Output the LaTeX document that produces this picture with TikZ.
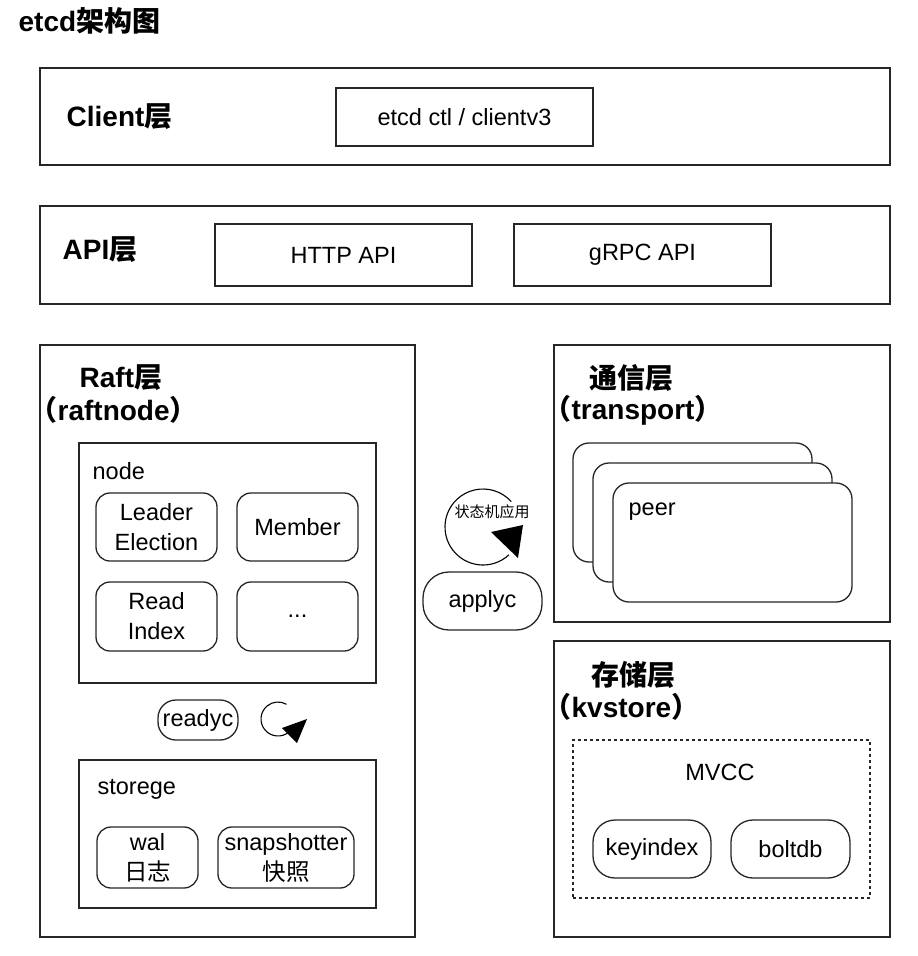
\documentclass[tikz,border=0pt]{standalone}
\usepackage{fontspec}
\setmainfont{Liberation Sans}
\newfontfamily\cjk{Noto Sans CJK SC}
\begin{document}
\begin{tikzpicture}[x=1pt,y=-1pt,
  line width=1.3pt,
  every node/.style={font=\fontsize{23.5}{30}\selectfont, inner sep=0pt},
  box/.style={draw=black!85, rectangle},
  rbox/.style={draw=black!85, rectangle, rounded corners=14pt, fill=white, align=center},
  pill/.style={draw=black!85, rectangle, rounded corners=22pt, fill=white},
  lbl/.style={font=\fontsize{28}{32}\selectfont\bfseries, anchor=west},
  txt/.style={anchor=west}]
\useasboundingbox (0,0) rectangle (918,956);
% title
\node[lbl] (title) at (18,21) {etcd{\cjk 架构图}};
% client layer
\node[box, minimum width=850pt, minimum height=97pt] (client) at (465,116.5) {};
\node[lbl] (clientl) at (66,117) {Client{\cjk 层}};
\node[box, minimum width=257pt, minimum height=58pt] (ctl) at (464.5,117) {etcd ctl / clientv3};
% api layer
\node[box, minimum width=850pt, minimum height=98pt] (api) at (465,255) {};
\node[lbl] (apil) at (62,250) {API{\cjk 层}};
\node[box, minimum width=257pt, minimum height=62pt] (http) at (343.5,255) {HTTP API};
\node[box, minimum width=257pt, minimum height=62pt] (grpc) at (642.5,255) {gRPC API};
% raft layer
\node[box, minimum width=375pt, minimum height=592pt] (raft) at (227.5,641) {};
\node[lbl] (raftl1) at (79,378) {Raft{\cjk 层}};
\node[lbl] (raftl2) at (29,410) {{\cjk （}raftnode{\cjk ）}};
\node[box, minimum width=297pt, minimum height=240pt] (node) at (227.5,563) {};
\node[txt] (nodel) at (92,471) {node};
\node[rbox, minimum width=121pt, minimum height=68pt] (leader) at (156.5,527) {Leader\\Election};
\node[rbox, minimum width=121pt, minimum height=68pt] (member) at (297.5,527) {Member};
\node[rbox, minimum width=121pt, minimum height=69pt] (read) at (156.5,616.5) {Read\\Index};
\node[rbox, minimum width=121pt, minimum height=69pt] (dots) at (297.5,616.5) {...};
\node[pill, minimum width=80pt, minimum height=40pt, rounded corners=18pt] (readyc) at (198,720) {readyc};
% small cycle arrow
\coordinate (sc) at (278,719);
\draw[line width=1.1pt] ([shift={(-50:17pt)}]sc) arc[start angle=-50, end angle=-300, radius=17pt];
\fill (282,728) -- (307,719) -- (297,743) -- cycle;
\node[box, minimum width=297pt, minimum height=148pt] (storege) at (227.5,834) {};
\node[txt] (storegel) at (97,789) {storege};
\node[rbox, minimum width=101pt, minimum height=61pt] (wal) at (147.5,857.5) {wal\\{\cjk 日志}};
\node[rbox, minimum width=136pt, minimum height=61pt] (snap) at (286,857.5) {snapshotter\\{\cjk 快照}};
% center
\coordinate (bc) at (483,527);
\draw[line width=1.1pt] ([shift={(-47:38pt)}]bc) arc[start angle=-47, end angle=-318, radius=38pt];
\fill (491,532) -- (523,525) -- (518,558) -- cycle;
\node[font=\fontsize{15}{18}\selectfont\cjk] (sm) at (492,512) {状态机应用};
\node[pill, minimum width=119pt, minimum height=58pt, rounded corners=26pt] (applyc) at (482.5,601) {applyc};
% transport
\node[box, minimum width=336pt, minimum height=277pt] (trans) at (722,483.5) {};
\node[lbl] (transl1) at (589,378) {{\cjk 通信层}};
\node[lbl] (transl2) at (543,410) {{\cjk （}transport{\cjk ）}};
\node[rbox, rounded corners=16pt, minimum width=239pt, minimum height=119pt] (peer1) at (692.5,502.5) {};
\node[rbox, rounded corners=16pt, minimum width=239pt, minimum height=119pt] (peer2) at (712.5,522.5) {};
\node[rbox, rounded corners=16pt, minimum width=239pt, minimum height=119pt] (peer3) at (732.5,542.5) {};
\node[txt] (peerl) at (628,512) {peer};
% storage
\node[box, minimum width=336pt, minimum height=296pt] (store) at (722,789) {};
\node[lbl] (storel1) at (591,675) {{\cjk 存储层}};
\node[lbl] (storel2) at (543,707) {{\cjk （}kvstore{\cjk ）}};
\node[box, dashed, line width=1.1pt, minimum width=297pt, minimum height=158pt] (mvcc) at (721.5,819) {};
\node (mvccl) at (720,772) {MVCC};
\node[rbox, rounded corners=22pt, minimum width=118pt, minimum height=58pt] (keyindex) at (652,849) {keyindex};
\node[rbox, rounded corners=22pt, minimum width=119pt, minimum height=58pt] (boltdb) at (790.5,849) {boltdb};
\end{tikzpicture}
\end{document}
